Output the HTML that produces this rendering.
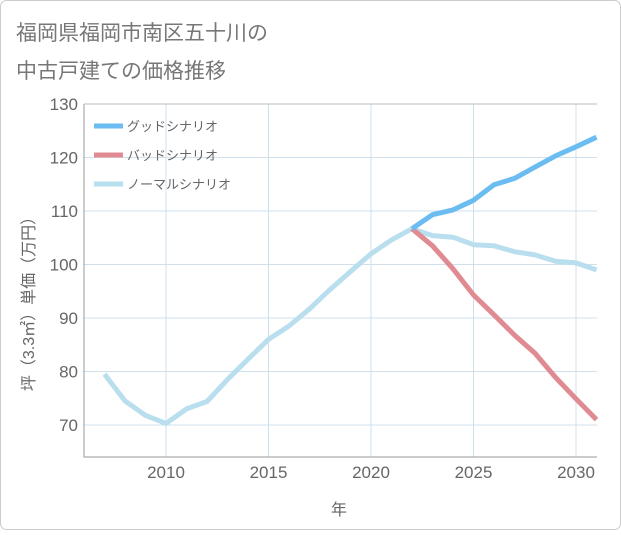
<!DOCTYPE html>
<html><head><meta charset="utf-8"><style>
body{margin:0;background:#fff;}
#wrap{position:relative;width:621px;height:530px;}
svg text{font-family:"Liberation Sans","Noto Sans CJK JP",sans-serif;}
</style></head><body>
<div id="wrap">
<svg id="chart" width="621" height="530" xmlns="http://www.w3.org/2000/svg">
<rect x="0.5" y="0.5" width="620" height="529" rx="6" fill="#fff" stroke="#ccc"/>
<text x="16" y="40" font-size="21" fill="#777">福岡県福岡市南区五十川の</text>
<text x="16" y="78" font-size="21" fill="#777">中古戸建ての価格推移</text>
<g id="grid"></g>
<g id="axes"></g>
<g id="series"></g>
<g id="legend"></g>
<text x="339" y="515" font-size="16" fill="#666" text-anchor="middle">年</text>
<text transform="translate(34,300) rotate(-90)" font-size="16" fill="#666" text-anchor="middle">坪（3.3㎡）単価（万円）</text>
</svg>
</div>
<script>
const years=[2007,2008,2009,2010,2011,2012,2013,2014,2015,2016,2017,2018,2019,2020,2021,2022,2023,2024,2025,2026,2027,2028,2029,2030,2031];
const normalValues=[79.5,74.5,71.8,70.3,73,74.4,78.5,82.3,86,88.5,91.7,95.3,98.7,102,104.6,106.7,105.4,105.1,103.7,103.5,102.4,101.8,100.6,100.3,99];
const goodYears=[2022,2023,2024,2025,2026,2027,2028,2029,2030,2031];
const goodValues=[106.7,109.3,110.2,112,114.9,116.1,118.2,120.3,122,123.8];
const badYears=[2022,2023,2024,2025,2026,2027,2028,2029,2030,2031];
const badValues=[106.7,103.5,99.2,94.3,90.6,86.8,83.4,78.9,74.9,71];
const yTicks=[70,80,90,100,110,120,130];
const xTicks=[2010,2015,2020,2025,2030];
const legendLabels=["グッドシナリオ","バッドシナリオ","ノーマルシナリオ"];
const legendColors=["#6bbcf0","#e08a92","#b9dfee"];

const L=84,R=597,T=104,B=457;
const x=v=>166+(v-2010)*20.5;
const y=v=>104+(130-v)*5.35;
const NS="http://www.w3.org/2000/svg";
function mk(tag,attrs,parent){const e=document.createElementNS(NS,tag);for(const k in attrs)e.setAttribute(k,attrs[k]);parent.appendChild(e);return e;}
const grid=document.getElementById('grid'),axes=document.getElementById('axes'),series=document.getElementById('series'),legend=document.getElementById('legend');
yTicks.forEach(t=>{
  const l=mk('line',{x1:L,x2:R,y1:y(t),y2:y(t),stroke:'#cfe0ec','stroke-width':1},grid);
  
  
  const tx=mk('text',{x:78,y:y(t)+6,'font-size':17,fill:'#666','text-anchor':'end'},axes);
  tx.textContent=t;
  
  
});
xTicks.forEach(t=>{
  const l=mk('line',{x1:x(t),x2:x(t),y1:T,y2:B,stroke:'#cfe0ec','stroke-width':1},grid);
  
  
  const tx=mk('text',{x:x(t),y:478,'font-size':17,fill:'#666','text-anchor':'middle'},axes);
  tx.textContent=t;
  
  
});
const fr=mk('path',{d:`M${L},${T}V${B}H${R}`,fill:'none',stroke:'#999','stroke-width':1},axes);


const tp=mk('line',{x1:L,x2:R,y1:T,y2:T,stroke:'#bbb','stroke-width':1},axes);


function line(xs,vs,color,name){
  const d=xs.map((v,i)=>(i?'L':'M')+x(v).toFixed(1)+','+y(vs[i]).toFixed(1)).join('');
  const p=mk('path',{d,fill:'none',stroke:color,'stroke-width':5,'stroke-linejoin':'round','stroke-linecap':'butt'},series);
  
  
}
line(years,normalValues,legendColors[2],'normal-scenario-line');
line(badYears,badValues,legendColors[1],'bad-scenario-line');
line(goodYears,goodValues,legendColors[0],'good-scenario-line');
legendLabels.forEach((lab,i)=>{
  const yy=126+i*29;
  const s=mk('line',{x1:94,x2:123,y1:yy,y2:yy,stroke:legendColors[i],'stroke-width':5},legend);
  
  
  const t=mk('text',{x:127,y:yy+5,'font-size':13,fill:'#666'},legend);
  t.textContent=lab;
  
  
});
</script>
</body></html>
